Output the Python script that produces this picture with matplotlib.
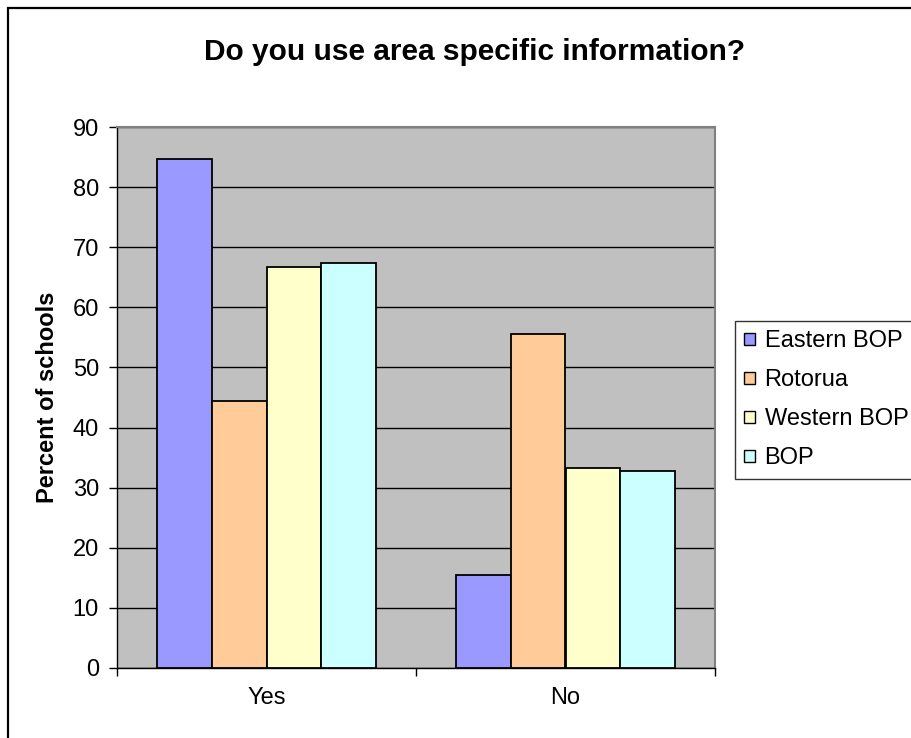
import matplotlib

matplotlib.use("Agg")
import matplotlib.pyplot as plt
import numpy as np
from matplotlib.patches import Patch, Rectangle

plt.rcParams["font.family"] = ["Liberation Sans", "DejaVu Sans"]

categories = ["Yes", "No"]
series_names = ["Eastern BOP", "Rotorua", "Western BOP", "BOP"]
eastern_bop = [84.6, 15.4]
rotorua = [44.4, 55.6]
western_bop = [66.7, 33.3]
bop = [67.3, 32.7]
colors = ["#9999ff", "#ffcc99", "#ffffcc", "#ccffff"]
y_ticks = [0, 10, 20, 30, 40, 50, 60, 70, 80, 90]

fs = 17

fig = plt.figure(figsize=(9.12, 7.38), dpi=100)
fig.patch.set_facecolor("white")

# chart-area frame (runs off the right and bottom edges)
fig.add_artist(Rectangle((8 / 912, -0.05), 1.2, 1 - 8 / 738 + 0.05,
                         transform=fig.transFigure, fill=False,
                         edgecolor="black", linewidth=1.6))

ax = fig.add_axes([117 / 912, 70 / 738, 598 / 912, 541 / 738])
ax.set_facecolor("#c0c0c0")

x = np.arange(len(categories))
width = 0.1825
all_series = [eastern_bop, rotorua, western_bop, bop]
for i, (vals, col) in enumerate(zip(all_series, colors)):
    ax.bar(x + (i - 1.5) * width, vals, width, color=col,
           edgecolor="black", linewidth=1.3, zorder=3)

ax.set_xlim(-0.5, 1.5)
ax.set_ylim(0, 90)
ax.set_yticks(y_ticks)
ax.set_yticklabels([str(t) for t in y_ticks], fontsize=fs)
ax.yaxis.grid(True, color="black", linewidth=1.0, zorder=1)
ax.set_axisbelow(True)

# category ticks sit between groups, labels centred under them
ax.set_xticks([-0.5, 0.5, 1.5])
ax.set_xticklabels([])
ax.set_xticks(x, minor=True)
ax.set_xticklabels(categories, minor=True, fontsize=fs)
ax.tick_params(axis="x", which="minor", length=0, pad=14)
ax.tick_params(axis="x", which="major", length=6, width=1, direction="out")
ax.tick_params(axis="y", length=6, width=1, direction="out", pad=7)

for side in ("top", "right"):
    ax.spines[side].set_color("#808080")
    ax.spines[side].set_linewidth(1.5)
for side in ("left", "bottom"):
    ax.spines[side].set_color("black")
    ax.spines[side].set_linewidth(1.0)

ax.set_ylabel("Percent of schools", fontsize=17, fontweight="bold", labelpad=10)

fig.text(475 / 912, 1 - 52 / 738, "Do you use area specific information?",
         ha="center", va="center", fontsize=21.5, fontweight="bold")

# legend box is wider than the visible area, so its right edge is cut off
handles = [Patch(facecolor=c, edgecolor="black", linewidth=1.0) for c in colors]
leg = fig.legend(handles, series_names, loc="upper left", mode="expand",
                 bbox_to_anchor=(735 / 912, 1 - 321 / 738, 0.3, 0),
                 fontsize=fs, frameon=True, fancybox=False,
                 handlelength=0.45, handleheight=0.45, handletextpad=0.4,
                 labelspacing=0.72, borderpad=0.4, borderaxespad=0)
leg.get_frame().set_edgecolor("black")
leg.get_frame().set_linewidth(1.0)

fig.savefig("out.png", dpi=100)
